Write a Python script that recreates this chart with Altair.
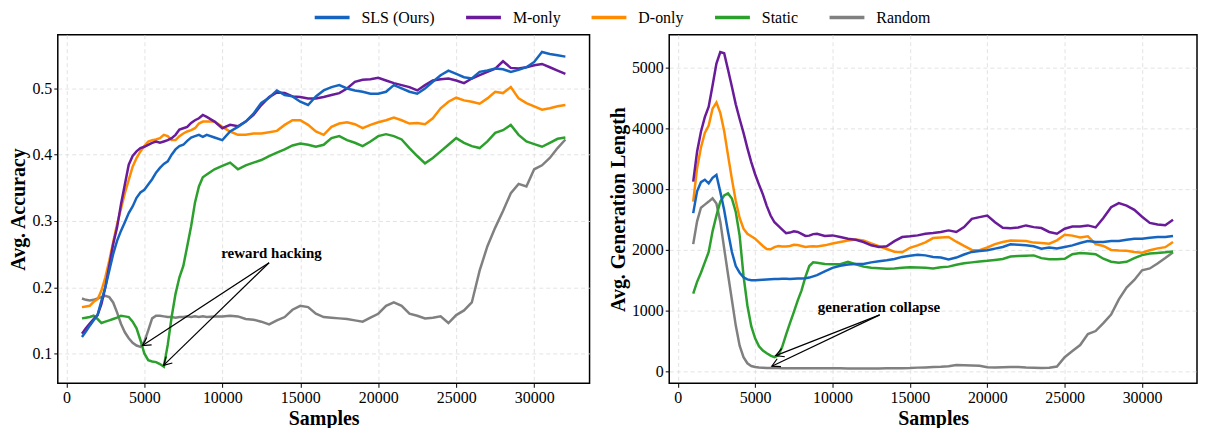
import math
import altair as alt
import pandas as pd

# ---------------- data ----------------
SAMPLES = list(range(1000, 9001, 250)) + list(range(9500, 32001, 500))

SERIES = ["SLS (Ours)", "M-only", "D-only", "Static", "Random"]
COLORS = ["#1565c0", "#6a1b9a", "#ff8c00", "#2ca02c", "#808080"]

ACC_SLS = [.125, .133, .142, .150, .158, .180, .200, .225, .250, .270, .285, .298, .312, .322, .335, .343,
           .347, .355, .363, .373, .380, .386, .390, .400, .408, .413, .415, .421, .426, .428, .430, .427, .430,
           .426, .422, .435, .442, .450, .462, .478, .486, .497, .490, .488, .480, .475, .488, .497, .502,
           .505, .500, .497, .495, .492, .492, .495, .505, .500, .495, .492, .500, .510, .520, .527, .522,
           .517, .515, .525, .527, .530, .529, .525, .528, .532, .540, .555, .552, .550, .548]
ACC_MONLY = [.130, .138, .145, .152, .158, .175, .200, .232, .265, .290, .325, .355, .385, .398, .405, .410,
             .412, .415, .418, .420, .418, .420, .422, .425, .430, .438, .440, .442, .448, .452, .455, .460, .457,
             .450, .440, .445, .443, .450, .460, .475, .487, .494, .493, .488, .487, .485, .485, .487, .490,
             .493, .500, .510, .513, .514, .516, .512, .508, .505, .502, .497, .505, .512, .514, .515, .512,
             .508, .515, .520, .525, .530, .541, .531, .530, .532, .535, .537, .532, .527, .522]
ACC_DONLY = [.170, .171, .172, .178, .182, .195, .215, .240, .268, .295, .318, .342, .362, .382, .395, .405,
             .413, .420, .422, .423, .425, .430, .428, .422, .422, .428, .432, .435, .437, .440, .447, .450, .450,
             .450, .442, .435, .430, .430, .432, .432, .434, .436, .445, .452, .452, .445, .435, .430, .442,
             .447, .449, .446, .440, .445, .449, .452, .456, .452, .447, .448, .446, .455, .470, .480, .486,
             .482, .480, .477, .485, .495, .493, .502, .485, .478, .473, .468, .470, .473, .475]
ACC_STATIC = [.153, .154, .155, .157, .152, .146, .148, .150, .152, .154, .157, .156, .155, .148, .138, .120,
              .100, .090, .088, .087, .084, .080, .113, .155, .190, .215, .232, .262, .292, .328, .352, .366, .370,
              .378, .383, .388, .378, .384, .388, .392, .398, .403, .408, .414, .417, .415, .412, .415, .425,
              .428, .422, .418, .413, .420, .428, .431, .428, .423, .410, .398, .387, .395, .405, .415, .425,
              .418, .413, .410, .420, .433, .437, .445, .430, .420, .416, .412, .418, .424, .426]
ACC_RANDOM = [.183, .181, .180, .181, .183, .185, .187, .185, .177, .162, .145, .132, .123, .116, .112, .110,
              .118, .135, .153, .157, .157, .156, .155, .155, .154, .155, .155, .156, .155, .156, .155, .156, .155,
              .156, .156, .157, .156, .152, .151, .148, .144, .150, .155, .166, .172, .170, .160, .155, .154,
              .153, .152, .150, .148, .154, .160, .172, .177, .172, .160, .157, .153, .154, .156, .146, .158,
              .165, .177, .225, .262, .290, .315, .342, .356, .352, .378, .384, .395, .410, .423]

LEN_SLS = [2600, 2960, 3110, 3150, 3090, 3180, 3230, 2950, 2650, 2290, 1960, 1730, 1620, 1545, 1510, 1495,
           1495, 1500, 1505, 1510, 1512, 1515, 1518, 1520, 1522, 1518, 1522, 1525, 1525, 1530, 1540, 1560, 1580,
           1640, 1700, 1735, 1755, 1765, 1765, 1790, 1810, 1825, 1845, 1880, 1900, 1915, 1905, 1880, 1869,
           1837, 1869, 1920, 1962, 1978, 1989, 2016, 2044, 2087, 2080, 2071, 2054, 2016, 2033, 2020, 2044,
           2070, 2109, 2142, 2125, 2125, 2142, 2142, 2163, 2180, 2180, 2196, 2207, 2207, 2223]
LEN_MONLY = [3120, 3610, 3940, 4180, 4350, 4700, 5060, 5250, 5230, 4960, 4680, 4390, 4150, 3920, 3670, 3440,
             3240, 3070, 2910, 2720, 2560, 2450, 2390, 2330, 2270, 2280, 2300, 2290, 2260, 2225, 2230, 2255, 2260,
             2223, 2234, 2207, 2180, 2163, 2125, 2071, 2044, 2055, 2140, 2207, 2218, 2234, 2262, 2272, 2289,
             2316, 2289, 2370, 2507, 2534, 2560, 2450, 2360, 2350, 2365, 2398, 2370, 2355, 2290, 2262, 2343,
             2380, 2380, 2398, 2365, 2520, 2698, 2765, 2725, 2655, 2540, 2440, 2414, 2400, 2490]
LEN_DONLY = [2790, 3340, 3680, 3920, 4040, 4320, 4420, 4250, 3950, 3550, 3160, 2800, 2520, 2345, 2260, 2220,
             2180, 2120, 2060, 2010, 2005, 2040, 2060, 2050, 2050, 2060, 2080, 2075, 2060, 2045, 2050, 2055, 2050,
             2070, 2100, 2125, 2150, 2165, 2150, 2100, 2055, 2010, 1965, 1955, 2030, 2070, 2120, 2190, 2200,
             2207, 2130, 2060, 1995, 1989, 2035, 2090, 2125, 2150, 2145, 2140, 2115, 2110, 2098, 2153, 2245,
             2230, 2200, 2220, 2090, 2060, 1995, 1985, 1980, 1960, 1950, 1990, 2020, 2040, 2125]
LEN_STATIC = [1275, 1470, 1620, 1790, 1960, 2300, 2560, 2790, 2890, 2925, 2840, 2620, 2230, 1570, 1080, 740,
              540, 410, 340, 295, 255, 230, 260, 400, 600, 790, 970, 1160, 1330, 1550, 1730, 1790, 1785,
              1765, 1760, 1760, 1800, 1760, 1720, 1700, 1695, 1685, 1690, 1700, 1710, 1705, 1700, 1690, 1710,
              1720, 1750, 1775, 1790, 1805, 1815, 1830, 1845, 1885, 1895, 1900, 1905, 1860, 1840, 1840, 1850,
              1925, 1945, 1935, 1925, 1850, 1800, 1785, 1800, 1860, 1910, 1935, 1945, 1955, 1970]
LEN_RANDOM = [2090, 2465, 2690, 2740, 2790, 2845, 2760, 2460, 2020, 1590, 1170, 750, 420, 230, 130, 85,
              68, 60, 56, 53, 51, 50, 50, 49, 49, 48, 48, 48, 48, 48, 48, 48, 48,
              47, 46, 46, 45, 45, 45, 45, 45, 46, 47, 48, 50, 58, 62, 68, 72,
              80, 102, 98, 94, 90, 65, 62, 65, 70, 68, 60, 55, 52, 55, 75, 230,
              330, 430, 610, 660, 790, 930, 1180, 1375, 1500, 1660, 1690, 1770, 1860, 1955]

# annotations: label, text position, arrow start, arrow tips
ACC_NOTE = ("reward hacking", 13150, 0.252)
ACC_ARROW_FROM = (13000, 0.237)
ACC_ARROW_TO = [(4880, 0.112), (6230, 0.082)]
LEN_NOTE = ("generation collapse", 13000, 1063)
LEN_ARROW_FROM = (13050, 926)
LEN_ARROW_TO = [(6330, 256), (6080, 82)]

X_TICKS = [0, 5000, 10000, 15000, 20000, 25000, 30000]
ACC_TICKS = [0.1, 0.2, 0.3, 0.4, 0.5]
LEN_TICKS = [0, 1000, 2000, 3000, 4000, 5000]

XDOM = [-550, 33550]
ACC_DOM = [0.055, 0.581]
LEN_DOM = [-200, 5535]

W1, W2, H = 534, 530, 350
FONT = "Liberation Serif"


def long_table(series_lists):
    rows = []
    # draw order: Random first, SLS last (on top)
    for name, vals in reversed(list(zip(SERIES, series_lists))):
        for s, v in zip(SAMPLES, vals):
            rows.append({"x": s, "y": v, "series": name})
    return pd.DataFrame(rows)


def arrow_table(src, tips, xdom, ydom, w, h):
    rows = []
    for tx, ty in tips:
        dx = (tx - src[0]) * w / (xdom[1] - xdom[0])
        dy = -(ty - src[1]) * h / (ydom[1] - ydom[0])
        ang = math.degrees(math.atan2(dy, dx)) % 360
        rows.append({"x0": src[0], "y0": src[1], "x1": tx, "y1": ty, "angle": ang})
    return pd.DataFrame(rows)


def panel(series_lists, ydom, yticks, yfmt, ytitle, note, src, tips, w):
    df = long_table(series_lists)
    xs = alt.Scale(domain=XDOM, nice=False, zero=False)
    ys = alt.Scale(domain=ydom, nice=False, zero=False)
    xax = alt.Axis(values=X_TICKS, format="d", title="Samples", labelOverlap=False)
    yax = alt.Axis(values=yticks, format=yfmt, title=ytitle, labelOverlap=False)

    lines = alt.Chart(df).mark_line(strokeWidth=2.5, clip=True).encode(
        x=alt.X("x:Q", scale=xs, axis=xax),
        y=alt.Y("y:Q", scale=ys, axis=yax),
        color=alt.Color("series:N", sort=SERIES,
                        scale=alt.Scale(domain=SERIES, range=COLORS),
                        legend=alt.Legend(title=None)),
        order=alt.Order("x:Q"),
    )

    tdf = pd.DataFrame([{"label": note[0], "x": note[1], "y": note[2]}])
    text = alt.Chart(tdf).mark_text(font=FONT, fontSize=15, fontWeight="bold",
                                    color="black", align="center", baseline="middle").encode(
        x=alt.X("x:Q", scale=xs), y=alt.Y("y:Q", scale=ys), text="label:N")

    adf = arrow_table(src, tips, XDOM, ydom, w, H)
    rules = alt.Chart(adf).mark_rule(color="black", strokeWidth=1.2).encode(
        x=alt.X("x0:Q", scale=xs), y=alt.Y("y0:Q", scale=ys), x2="x1:Q", y2="y1:Q")
    heads = alt.Chart(adf).mark_point(shape="M -1 -0.55 L 0 0 L -1 0.55", filled=False,
                                      color="black", strokeWidth=1.2, size=260, opacity=1).encode(
        x=alt.X("x1:Q", scale=xs), y=alt.Y("y1:Q", scale=ys),
        angle=alt.Angle("angle:Q", scale=None))

    return alt.layer(lines, rules, heads, text).properties(width=w, height=H)


left = panel([ACC_SLS, ACC_MONLY, ACC_DONLY, ACC_STATIC, ACC_RANDOM], ACC_DOM, ACC_TICKS, ".1f",
             "Avg. Accuracy", ACC_NOTE, ACC_ARROW_FROM, ACC_ARROW_TO, W1)
right = panel([LEN_SLS, LEN_MONLY, LEN_DONLY, LEN_STATIC, LEN_RANDOM], LEN_DOM, LEN_TICKS, "d",
              "Avg. Generation Length", LEN_NOTE, LEN_ARROW_FROM, LEN_ARROW_TO, W2)

chart = alt.hconcat(left, right, spacing=17).properties(
    padding={"left": 0, "top": -11, "right": 0, "bottom": 0}
).configure_view(
    stroke="black", strokeWidth=1.5
).configure_axis(
    labelFont=FONT, labelFontSize=16, labelColor="black", labelPadding=2,
    titleFont=FONT, titleFontSize=20, titleFontWeight="bold", titleColor="black", titlePadding=3,
    tickColor="black", tickSize=4, tickWidth=1,
    grid=True, gridColor="#dcdcdc", gridDash=[4, 3], gridWidth=0.8,
    domain=False,
).configure_legend(
    orient="none", legendX=256, legendY=-37, direction="horizontal",
    labelFont=FONT, labelFontSize=16, labelColor="black", labelOffset=10,
    symbolType="stroke", symbolSize=1225, symbolStrokeWidth=3.5, columnPadding=24,
)

chart.save("out.html", embed_options={"renderer": "svg", "actions": False})
